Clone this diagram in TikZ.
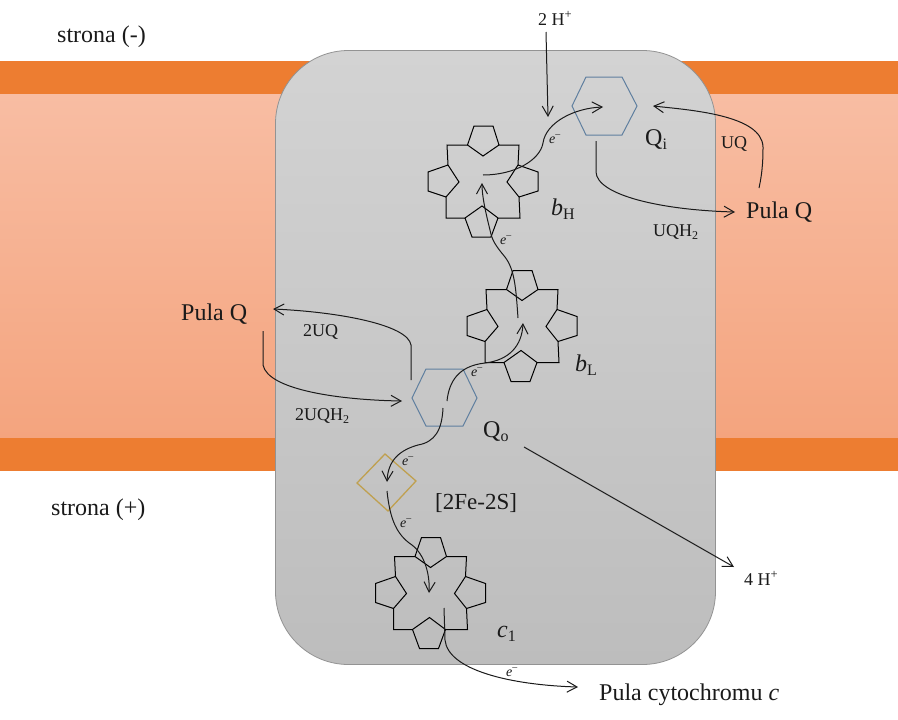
\documentclass[tikz,border=0pt]{standalone}
\usepackage{fontspec}
\setmainfont{Liberation Serif}
\usetikzlibrary{arrows.meta}
\definecolor{bandorange}{HTML}{ED7D31}
\definecolor{memtop}{HTML}{F8BDA3}
\definecolor{membot}{HTML}{F4A47E}
\definecolor{boxtop}{HTML}{D3D3D3}
\definecolor{boxbot}{HTML}{BDBDBD}
\definecolor{hexblue}{HTML}{5F7F9F}
\definecolor{fegold}{HTML}{BFA050}
\definecolor{ink}{HTML}{1A1A1A}
\tikzset{
  big/.style={font=\fontsize{24}{28}\selectfont,inner sep=0pt,anchor=base west,text=ink},
  mid/.style={font=\fontsize{18}{22}\selectfont,inner sep=0pt,anchor=base west,text=ink},
  tiny/.style={font=\fontsize{14}{16}\selectfont,inner sep=0pt,anchor=base west,text=ink},
  conn/.style={draw=ink,line width=1pt,-{Straight Barb[length=10pt,width=11pt,line width=1pt]}},
  hexa/.style={draw=hexblue,line width=1pt},
  heme/.pic={
    \draw[black,line width=1pt,line join=miter]
      (-15.5,-37)--(0,-26)--(16,-37)--(10,-56)--(-9,-56)--cycle
      (-35,-17)--(-24,0)--(-37,15)--(-55,9)--(-55,-10)--cycle
      (35,-17)--(24,0)--(36,15)--(55,9)--(55,-10)--cycle
      (-18,36)--(-1,24)--(15,36)--(8,55)--(-11,55)--cycle
      (-15.5,-37)--(-36,-37)--(-35,-17)
      (16,-37)--(36,-37)--(35,-17)
      (-37,15)--(-37,36)--(-18,36)
      (15,36)--(37,36)--(36,15);
  }
}
\newcommand{\elec}{\textit{e}\textsuperscript{–}}
\newcommand{\bigsubs}[1]{\raisebox{-4.5pt}{\fontsize{16}{16}\selectfont #1}}
\newcommand{\midsubs}[1]{\raisebox{-3.5pt}{\fontsize{12}{12}\selectfont #1}}
\begin{document}
\begin{tikzpicture}[x=1pt,y=-1pt]
\useasboundingbox (0,0) rectangle (898,720);
\fill[white] (0,0) rectangle (898,720);
% membrane
\shade[top color=memtop,bottom color=membot] (0,94) rectangle (898,438);
\fill[bandorange] (0,61) rectangle (898,94);
\fill[bandorange] (0,438) rectangle (898,471);
% protein box
\path[draw=gray!85,line width=0.8pt,top color=boxtop,bottom color=boxbot,rounded corners=73pt]
  (275.5,50.5) rectangle (715.5,664.5);
% hemes
\pic at (483,182) {heme};
\pic at (522,326.5) {heme};
\pic at (430.5,593.5) {heme};
% hexagons
\draw[hexa] (572,106)--(586,77)--(622,77)--(637,106)--(622,135)--(586,135)--cycle;
\draw[hexa] (412,398)--(426,369)--(463,369)--(477,398)--(463,426)--(426,426)--cycle;
% iron-sulfur
\draw[draw=fegold,line width=1.3pt] (385,454)--(416,481)--(388,511)--(357,483)--cycle;
% connector end points
\coordinate (hA) at (546,32);   \coordinate (hB) at (548,117);
\coordinate (bhC) at (483,175); \coordinate (qiC) at (603,107);
\coordinate (qiD) at (596,141); \coordinate (pqrW) at (735,212);
\coordinate (pqrN) at (759,188); \coordinate (qiE) at (653,106);
\coordinate (blC) at (518,318); \coordinate (bhD) at (482,183);
\coordinate (qoC) at (447,401); \coordinate (blD) at (523,323);
\coordinate (qoD) at (443,408); \coordinate (feC) at (387,482);
\coordinate (feD) at (387,491); \coordinate (c1C) at (429,593);
\coordinate (c1D) at (444,608); \coordinate (pcW) at (578,687);
\coordinate (qoF) at (524,447); \coordinate (hG) at (734,567);
\coordinate (qoT) at (411,380); \coordinate (pqlE) at (273,309);
\coordinate (pqlS) at (263,331); \coordinate (qoW) at (402,401);
% connectors
\draw[conn] (hA) -- (hB);
\draw[conn] (bhC) .. controls (515,175) and (540,160) .. (543,143) .. controls (546,122) and (575,108) .. (qiC);
\draw[conn] (qiD) -- (596,172) .. controls (597,195) and (660,210) .. (pqrW);
\draw[conn] (pqrN) .. controls (763,170) and (763,155) .. (763,147) .. controls (762,115) and (690,110) .. (qiE);
\draw[conn] (blC) .. controls (516,290) and (515,270) .. (505,257) .. controls (495,245) and (492,240) .. (490,230) .. controls (485,210) and (482,195) .. (bhD);
\draw[conn] (qoC) .. controls (449,382) and (458,366) .. (485,363) .. controls (510,360) and (522,345) .. (blD);
\draw[conn] (qoD) .. controls (442,430) and (435,442) .. (418,445) .. controls (400,450) and (388,460) .. (feC);
\draw[conn] (feD) .. controls (390,520) and (397,535) .. (412,545) .. controls (425,555) and (430,575) .. (c1C);
\draw[conn] (c1D) -- (445,640) .. controls (448,670) and (510,685) .. (pcW);
\draw[conn] (qoF) -- (hG);
\draw[conn] (qoT) -- (411,345) .. controls (408,325) and (340,312) .. (pqlE);
\draw[conn] (pqlS) -- (263,365) .. controls (268,390) and (340,400) .. (qoW);
% labels
\node[big] (sm) at (57,42) {strona (-)};
\node[big] (sp) at (51,515) {strona (+)};
\node[big] (pqr) at (746,218) {Pula Q};
\node[big] (pql) at (181,320) {Pula Q};
\node[big] (qi) at (645,145) {Q\bigsubs{i}};
\node[big] (qo) at (483,437) {Q\bigsubs{o}};
\node[big] (bh) at (551,215) {\textit{b}\bigsubs{H}};
\node[big] (bl) at (575,371) {\textit{b}\bigsubs{L}};
\node[big] (c1) at (497,637) {\textit{c}\bigsubs{1}};
\node[big,font=\fontsize{23}{28}\selectfont] (fes) at (435,509) {[2Fe-2S]};
\node[big] (pc) at (599,700) {Pula cytochromu \textit{c}};
\node[mid] (uq) at (721,148) {UQ};
\node[mid] (uqh) at (653,236) {UQH\midsubs{2}};
\node[mid] (uq2) at (303,336) {2UQ};
\node[mid] (uqh2) at (295,420) {2UQH\midsubs{2}};
\node[mid] (hp2) at (538,25) {2 H\textsuperscript{+}};
\node[mid] (hp4) at (744,585) {4 H\textsuperscript{+}};
\node[tiny] (e1) at (549,143) {\elec};
\node[tiny] (e2) at (500,244) {\elec};
\node[tiny] (e3) at (471,376) {\elec};
\node[tiny] (e4) at (402,465) {\elec};
\node[tiny] (e5) at (400,527) {\elec};
\node[tiny] (e6) at (506,676) {\elec};
\end{tikzpicture}
\end{document}
